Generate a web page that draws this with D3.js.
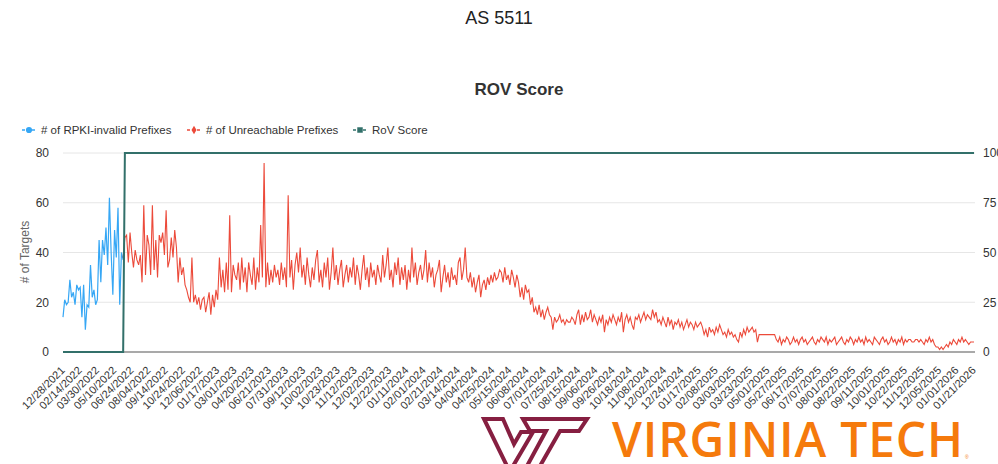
<!DOCTYPE html>
<meta charset="utf-8">
<style>
body { margin: 0; background: #fff; }
text { font-family: "Liberation Sans", Arial, sans-serif; }
</style>
<body>
<script src="https://d3js.org/d3.v7.min.js"></script>
<script>
var width = 998,
    height = 464;

// x-axis labels, one every `perLabel` samples
var tickLabels = ["12/28/2021","02/14/2022","03/30/2022","05/10/2022","06/24/2022","08/04/2022","09/14/2022","10/24/2022","12/06/2022","01/17/2023","03/01/2023","04/20/2023","06/21/2023","07/31/2023","09/12/2023","10/02/2023","10/23/2023","11/12/2023","12/02/2023","12/22/2023","01/11/2024","02/01/2024","02/21/2024","03/14/2024","04/04/2024","04/25/2024","05/15/2024","06/08/2024","07/01/2024","07/25/2024","08/15/2024","09/06/2024","09/26/2024","10/18/2024","11/08/2024","12/02/2024","12/24/2024","01/17/2025","02/08/2025","03/03/2025","03/23/2025","05/01/2025","05/27/2025","06/17/2025","07/07/2025","08/01/2025","08/22/2025","09/11/2025","10/01/2025","10/22/2025","11/12/2025","12/05/2025","01/01/2026","01/21/2026"];
var perLabel = 10;

// # of RPKI-invalid prefixes (starts at first sample)
var rpkiInvalid = [14,21,19,20,29,22,24,19,27,25,26,14,27,9,19,18,35,22,25,19,21,45,28,45,39,50,35,62,40,23,49,38,58,19,40,37];

// # of unreachable prefixes (starts at sample 35)
var unreachableStart = 35;
var unreachable = [
  38,46,47,36,48,40,34,41,37,35,39,
  28,59,31,47,43,31,59,33,45,30,
  47,44,48,39,57,34,37,46,38,49,42,
  28,38,31,34,27,25,22,20,
  38,20,23,19,22,17,21,22,16,20,24,15,23,18,25,21,
  38,26,33,24,36,25,55,24,35,31,29,
  36,25,38,28,34,24,36,31,27,38,25,34,28,51,
  30,76,26,36,27,33,
  28,35,30,33,27,36,29,34,26,63,30,37,25,35,40,32,
  42,30,35,27,38,31,26,34,29,37,
  41,28,33,26,36,30,38,25,32,42,
  29,35,27,33,37,26,31,35,28,34,
  30,38,27,35,31,25,33,39,29,34,
  26,36,30,33,27,35,31,28,39,30,
  35,42,29,33,26,36,31,38,27,34,
  29,35,25,33,28,42,30,36,27,32,
  35,29,33,41,28,36,30,34,26,31,
  33,37,24,30,35,28,32,26,34,29,
  31,27,36,38,29,33,42,30,28,32,
  26,30,24,28,31,22,27,29,25,30,
  27,31,28,32,29,30,33,
  32,28,34,29,31,27,33,30,26,31,28,
  22,26,21,27,24,25,19,22,16,
  18,15,19,14,17,13,16,18,15,14,9,
  14,12,13,15,12,13,11,13,12,12,14,13,11,15,
  17,11,15,12,16,13,14,17,12,15,
  13,11,14,12,15,8,13,11,14,12,
  15,13,11,14,12,16,8,13,15,12,
  14,11,9,14,13,15,12,14,16,13,
  15,14,13,17,14,16,12,13,11,14,
  12,10,14,11,13,9,12,11,13,10,
  12,9,11,13,10,12,11,9,12,10,11,12,
  10,7,9,6,10,8,9,7,10,8,
  11,9,7,8,6,9,7,8,6,7,
  5,4,8,6,9,7,10,8,
  9,10,8,9,4,
  7,7,7,7,7,7,7,7,7,7,
  5,4,6,3,5,4,6,5,3,4,6,4,5,3,5,6,4,5,3,4,5,6,4,3,5,4,6,5,
  4,6,3,5,4,5,6,3,4,5,
  6,4,3,5,4,6,5,3,5,4,
  6,4,5,3,6,4,5,4,3,6,
  5,4,3,5,6,4,5,3,4,6,
  4,5,3,5,4,6,3,5,4,5,
  5,4,4,5,5,4,5,4,3,5,
  4,6,4,5,
  3,2,2,1,2,1,2,3,2,
  4,3,5,4,3,5,4,6,4,5,4,3,4,4,4
];

// RoV score as runs of [value, sample count]
var rovRuns = [[0, 36], [100, 495]];

var n = (tickLabels.length - 1) * perLabel + 1;
var blueColor = "#36a7f5", redColor = "#ec4a3a", tealColor = "#32706a";

var rpkiSeries = rpkiInvalid.map(function(v, i) { return [i, v]; });
var unreachSeries = unreachable.map(function(v, i) { return [i + unreachableStart, v]; });
var rovSeries = [];
rovRuns.forEach(function(r) {
  for (var k = 0; k < r[1]; k++) rovSeries.push([rovSeries.length, r[0]]);
});

var svg = d3.select("body").append("svg")
    .attr("width", width)
    .attr("height", height);

var x = d3.scaleLinear().domain([0, n - 1]).range([63, 974]);
var yLeft = d3.scaleLinear().domain([0, 80]).range([352, 153]);
var yRight = d3.scaleLinear().domain([0, 100]).range([352, 153]);

// titles
svg.append("text").attr("x", 499).attr("y", 24)
    .attr("text-anchor", "middle").style("font-size", "18px").style("fill", "#222")
    .text("AS 5511");
svg.append("text").attr("x", 519).attr("y", 95)
    .attr("text-anchor", "middle").style("font-size", "17px").style("font-weight", "bold").style("fill", "#333")
    .text("ROV Score");

// gridlines
svg.append("g").selectAll("line")
    .data([20, 40, 60, 80])
    .enter().append("line")
    .attr("x1", 63).attr("x2", 975)
    .attr("y1", function(d) { return yLeft(d); })
    .attr("y2", function(d) { return yLeft(d); })
    .attr("stroke", "#e6e6e6").attr("stroke-width", 1);

// left axis
var gl = svg.append("g").attr("transform", "translate(63,0)")
    .call(d3.axisLeft(yLeft).tickValues([0, 20, 40, 60, 80]).tickSize(0).tickPadding(14));
gl.select(".domain").remove();
gl.selectAll("text").style("font-size", "12px").style("fill", "#333").style("font-family", "Liberation Sans, Arial, sans-serif");

// right axis
var gr = svg.append("g").attr("transform", "translate(975,0)")
    .call(d3.axisRight(yRight).tickValues([0, 25, 50, 75, 100]).tickSize(0).tickPadding(8));
gr.select(".domain").remove();
gr.selectAll("text").style("font-size", "12px").style("fill", "#333").style("font-family", "Liberation Sans, Arial, sans-serif");

// y title
svg.append("text")
    .attr("transform", "translate(29,252) rotate(-90)")
    .attr("text-anchor", "middle").style("font-size", "12px").style("fill", "#666")
    .text("# of Targets");

// x axis
var gx = svg.append("g").attr("transform", "translate(0,352)")
    .call(d3.axisBottom(x)
      .tickValues(d3.range(0, n, perLabel))
      .tickFormat(function(i) { return tickLabels[i / perLabel]; })
      .tickSize(0));
gx.select(".domain").attr("stroke", "#555").attr("stroke-width", 1.2).attr("d", "M63,0H975");
gx.selectAll("text")
    .style("font-size", "11px").style("fill", "#333").style("font-family", "Liberation Sans, Arial, sans-serif")
    .attr("text-anchor", "end")
    .attr("dy", null).attr("y", 0)
    .attr("transform", "translate(2,19) rotate(-45)");

// lines
var line = function(ys) {
  return d3.line().x(function(d) { return x(d[0]); }).y(function(d) { return ys(d[1]); });
};

svg.append("path").datum(rpkiSeries)
    .attr("d", line(yLeft))
    .attr("fill", "none").attr("stroke", blueColor).attr("stroke-width", 1.2);
svg.append("path").datum(unreachSeries)
    .attr("d", line(yLeft))
    .attr("fill", "none").attr("stroke", redColor).attr("stroke-width", 1.1);
svg.append("path").datum(rovSeries)
    .attr("d", line(yRight))
    .attr("fill", "none").attr("stroke", tealColor).attr("stroke-width", 2);

// legend
var legendItems = [
  { label: "# of RPKI-invalid Prefixes", color: blueColor, shape: d3.symbolCircle, x: 22 },
  { label: "# of Unreachable Prefixes", color: redColor, shape: d3.symbolDiamond, x: 187 },
  { label: "RoV Score", color: tealColor, shape: d3.symbolSquare, x: 353 }
];
var lg = svg.append("g").selectAll("g").data(legendItems).enter().append("g")
    .attr("transform", function(d) { return "translate(" + d.x + ",130)"; });
lg.append("line").attr("x1", 0).attr("x2", 14)
    .attr("stroke", function(d) { return d.color; })
    .attr("stroke-width", 1.5).attr("stroke-dasharray", "3,2");
lg.append("path")
    .attr("transform", "translate(7,0)")
    .attr("d", function(d) { return d3.symbol().type(d.shape).size(d.shape === d3.symbolDiamond ? 22 : 30)(); })
    .attr("fill", function(d) { return d.color; });
lg.append("text").attr("x", 19).attr("y", 4)
    .style("font-size", "11.5px").style("fill", "#333")
    .text(function(d) { return d.label; });

// logo
var logo = svg.append("g");
logo.append("path")
    .attr("d", "M484,419 L503,419 L514,444 L521,432 L533,432 L513,466 L507,466 Z")
    .attr("fill", "#fff").attr("stroke", "#861f41").attr("stroke-width", 4).attr("stroke-linejoin", "miter");
logo.append("path")
    .attr("d", "M523,419 L587,419 L579,431 L560,431 L540,466 L527,466 L546,431 L530,431 Z")
    .attr("fill", "#fff").attr("stroke", "#861f41").attr("stroke-width", 4).attr("stroke-linejoin", "miter");
logo.append("text")
    .attr("x", 612).attr("y", 457)
    .attr("textLength", 351).attr("lengthAdjust", "spacing")
    .style("font-family", "'Open Sans', sans-serif").style("font-weight", "600")
    .style("font-size", "48px").style("fill", "#f57a0c")
    .text("VIRGINIA TECH");
logo.append("text")
    .attr("x", 965).attr("y", 459)
    .style("font-size", "5px").style("fill", "#f57a0c")
    .text("®");
</script>
</body>
</html>
